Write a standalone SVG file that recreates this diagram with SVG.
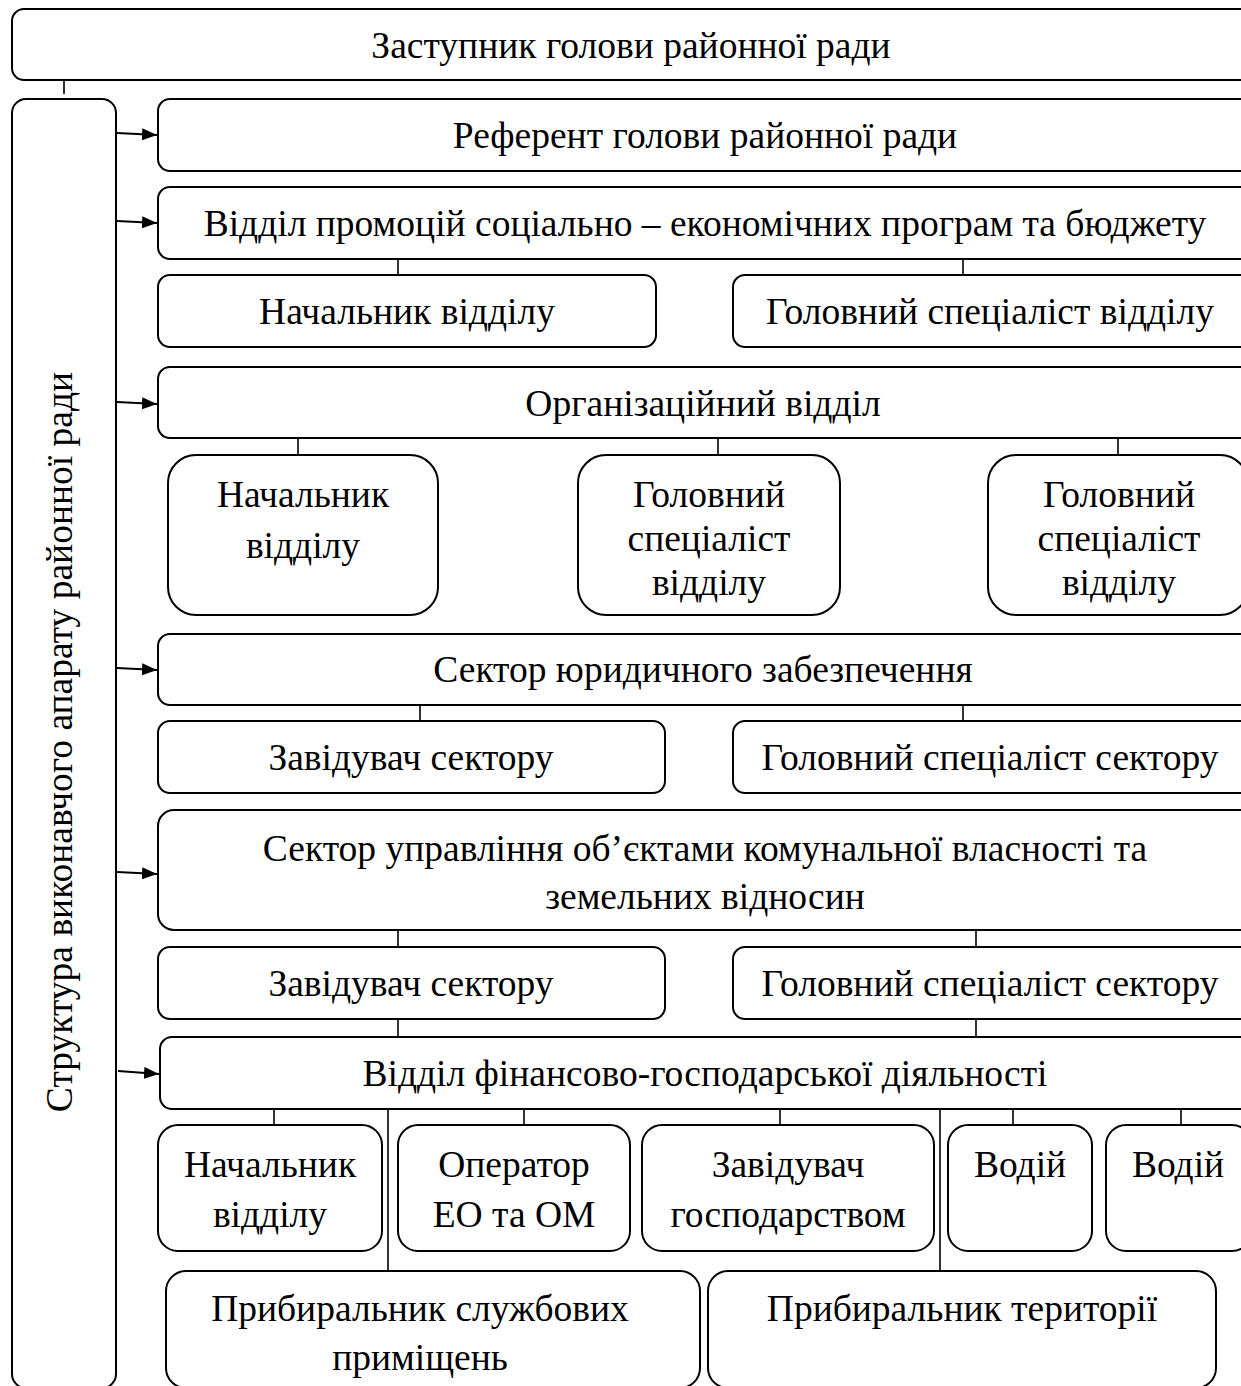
<svg xmlns="http://www.w3.org/2000/svg" width="1241" height="1386" viewBox="0 0 1241 1386">
<style>
.b{fill:#fff;stroke:#000;stroke-width:2}
.t{font-family:"Liberation Serif","Times New Roman",serif;font-size:37.5px;fill:#000;text-anchor:middle}
.c{stroke:#000;stroke-width:1.6;fill:none}
.a{stroke:#000;stroke-width:2;fill:none}
</style>
<defs>
<marker id="arr" markerWidth="15" markerHeight="12" refX="15" refY="6" orient="auto" markerUnits="userSpaceOnUse" viewBox="0 0 15 12">
<path d="M0,0 L15,6 L0,12 Z" fill="#000"/>
</marker>
</defs>

<g id="connectors">
<line class="c" x1="64" y1="80" x2="64" y2="94"/>
<line class="a" x1="117" y1="133" x2="157" y2="135" marker-end="url(#arr)"/>
<line class="a" x1="117" y1="221" x2="157" y2="223" marker-end="url(#arr)"/>
<line class="a" x1="117" y1="402" x2="157" y2="404" marker-end="url(#arr)"/>
<line class="a" x1="117" y1="668" x2="157" y2="670" marker-end="url(#arr)"/>
<line class="a" x1="117" y1="872" x2="157" y2="874" marker-end="url(#arr)"/>
<line class="a" x1="118" y1="1071" x2="159" y2="1074" marker-end="url(#arr)"/>
<line class="c" x1="398" y1="259" x2="398" y2="275"/>
<line class="c" x1="963" y1="259" x2="963" y2="275"/>
<line class="c" x1="298" y1="438" x2="298" y2="455"/>
<line class="c" x1="718" y1="438" x2="718" y2="455"/>
<line class="c" x1="1118" y1="438" x2="1118" y2="455"/>
<line class="c" x1="420" y1="705" x2="420" y2="721"/>
<line class="c" x1="963" y1="705" x2="963" y2="721"/>
<line class="c" x1="398" y1="930" x2="398" y2="947"/>
<line class="c" x1="976" y1="930" x2="976" y2="947"/>
<line class="c" x1="398" y1="1019" x2="398" y2="1037"/>
<line class="c" x1="976" y1="1019" x2="976" y2="1037"/>
<line class="c" x1="274" y1="1109" x2="274" y2="1125"/>
<line class="c" x1="388" y1="1109" x2="388" y2="1271"/>
<line class="c" x1="524" y1="1109" x2="524" y2="1125"/>
<line class="c" x1="780" y1="1109" x2="780" y2="1125"/>
<line class="c" x1="940" y1="1109" x2="940" y2="1271"/>
<line class="c" x1="1013" y1="1109" x2="1013" y2="1125"/>
<line class="c" x1="1181" y1="1109" x2="1181" y2="1125"/>
</g>

<g id="n-deputy">
<rect class="b" x="12" y="9" width="1250" height="71" rx="12"/>
<text class="t" x="631" y="58">Заступник голови районної ради</text>
</g>

<g id="n-structure">
<rect class="b" x="12" y="99" width="104" height="1289" rx="14"/>
<text class="t" transform="translate(72,742) rotate(-90)">Структура виконавчого апарату районної ради</text>
</g>

<g id="n-referent">
<rect class="b" x="158" y="99" width="1100" height="72" rx="12"/>
<text class="t" x="705" y="148">Референт голови районної ради</text>
</g>

<g id="n-promo">
<rect class="b" x="158" y="187" width="1100" height="72" rx="12"/>
<text class="t" x="705" y="236">Відділ промоцій соціально – економічних програм та бюджету</text>
</g>
<g id="n-promo-head">
<rect class="b" x="158" y="275" width="498" height="72" rx="12"/>
<text class="t" x="407" y="324">Начальник відділу</text>
</g>
<g id="n-promo-spec">
<rect class="b" x="733" y="275" width="520" height="72" rx="12"/>
<text class="t" x="990" y="324">Головний спеціаліст відділу</text>
</g>

<g id="n-org">
<rect class="b" x="158" y="367" width="1100" height="71" rx="12"/>
<text class="t" x="703" y="416">Організаційний відділ</text>
</g>
<g id="n-org-head">
<rect class="b" x="168" y="455" width="270" height="160" rx="28"/>
<text class="t" x="303" y="507">Начальник</text>
<text class="t" x="303" y="558">відділу</text>
</g>
<g id="n-org-spec1">
<rect class="b" x="578" y="455" width="262" height="160" rx="28"/>
<text class="t" x="709" y="507">Головний</text>
<text class="t" x="709" y="551">спеціаліст</text>
<text class="t" x="709" y="595">відділу</text>
</g>
<g id="n-org-spec2">
<rect class="b" x="988" y="455" width="260" height="160" rx="28"/>
<text class="t" x="1119" y="507">Головний</text>
<text class="t" x="1119" y="551">спеціаліст</text>
<text class="t" x="1119" y="595">відділу</text>
</g>

<g id="n-legal">
<rect class="b" x="158" y="634" width="1100" height="71" rx="12"/>
<text class="t" x="703" y="682">Сектор юридичного забезпечення</text>
</g>
<g id="n-legal-head">
<rect class="b" x="158" y="721" width="507" height="72" rx="12"/>
<text class="t" x="411" y="770">Завідувач сектору</text>
</g>
<g id="n-legal-spec">
<rect class="b" x="733" y="721" width="520" height="72" rx="12"/>
<text class="t" x="990" y="770">Головний спеціаліст сектору</text>
</g>

<g id="n-property">
<rect class="b" x="158" y="810" width="1100" height="120" rx="16"/>
<text class="t" x="705" y="861">Сектор управління об’єктами комунальної власності та</text>
<text class="t" x="705" y="909">земельних відносин</text>
</g>
<g id="n-property-head">
<rect class="b" x="158" y="947" width="507" height="72" rx="12"/>
<text class="t" x="411" y="996">Завідувач сектору</text>
</g>
<g id="n-property-spec">
<rect class="b" x="733" y="947" width="520" height="72" rx="12"/>
<text class="t" x="990" y="996">Головний спеціаліст сектору</text>
</g>

<g id="n-finance">
<rect class="b" x="160" y="1037" width="1100" height="72" rx="12"/>
<text class="t" x="705" y="1086">Відділ фінансово-господарської діяльності</text>
</g>
<g id="n-fin-head">
<rect class="b" x="158" y="1125" width="224" height="126" rx="20"/>
<text class="t" x="270" y="1177">Начальник</text>
<text class="t" x="270" y="1227">відділу</text>
</g>
<g id="n-fin-operator">
<rect class="b" x="398" y="1125" width="232" height="126" rx="20"/>
<text class="t" x="514" y="1177">Оператор</text>
<text class="t" x="514" y="1227">ЕО та ОМ</text>
</g>
<g id="n-fin-household">
<rect class="b" x="642" y="1125" width="292" height="126" rx="20"/>
<text class="t" x="788" y="1177">Завідувач</text>
<text class="t" x="788" y="1227">господарством</text>
</g>
<g id="n-fin-driver1">
<rect class="b" x="948" y="1125" width="144" height="126" rx="20"/>
<text class="t" x="1020" y="1177">Водій</text>
</g>
<g id="n-fin-driver2">
<rect class="b" x="1106" y="1125" width="146" height="126" rx="20"/>
<text class="t" x="1178" y="1177">Водій</text>
</g>
<g id="n-cleaner-rooms">
<rect class="b" x="166" y="1271" width="534" height="117" rx="20"/>
<text class="t" x="420" y="1321">Прибиральник службових</text>
<text class="t" x="420" y="1370">приміщень</text>
</g>
<g id="n-cleaner-territory">
<rect class="b" x="708" y="1271" width="508" height="117" rx="20"/>
<text class="t" x="962" y="1321">Прибиральник території</text>
</g>
</svg>
